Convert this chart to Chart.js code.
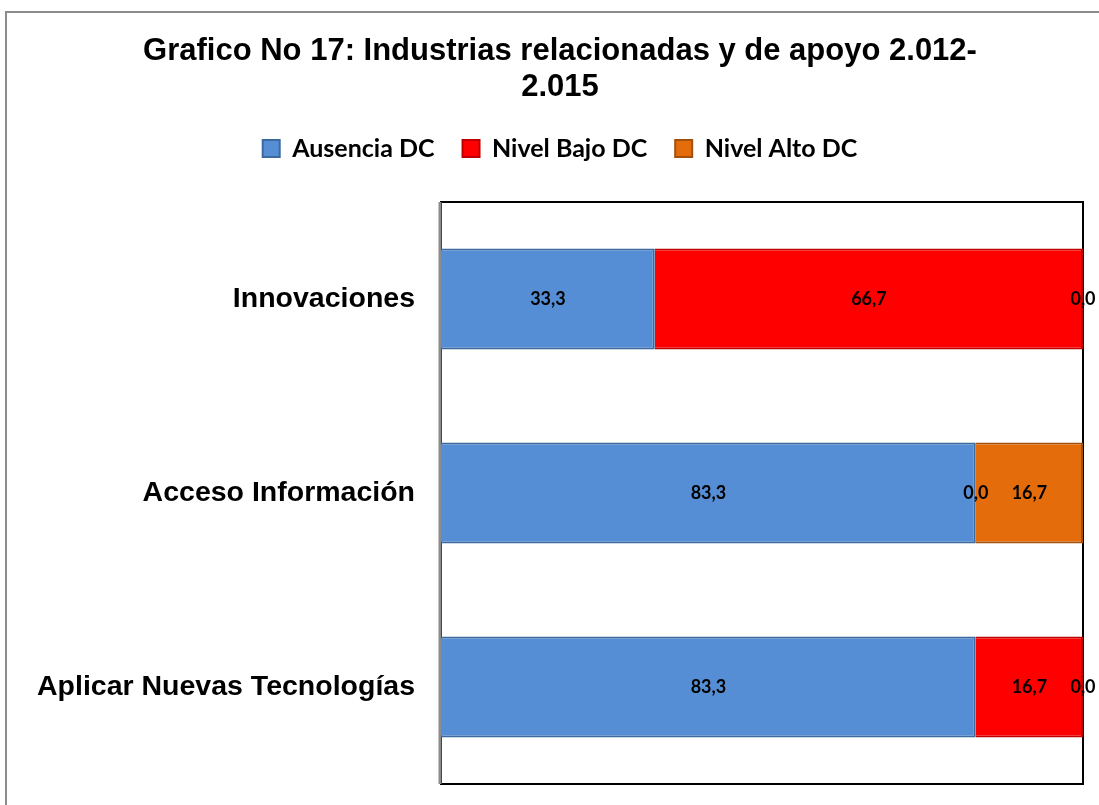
<!DOCTYPE html>
<html>
<head>
<meta charset="utf-8">
<script src="https://cdn.jsdelivr.net/npm/chart.js@4.4.0/dist/chart.umd.min.js"></script>
<style>
  html, body { margin: 0; padding: 0; background: #fff; overflow: hidden; width: 1099px; height: 805px; }
  #marco { position: absolute; left: 5px; top: 11px; width: 1200px; height: 900px; border: 2px solid #8c8c8c; box-sizing: border-box; }
  #grafico { position: absolute; left: 0; top: 0; }
</style>
</head>
<body>
<div id="marco"></div>
<canvas id="grafico" width="1120" height="805"></canvas>
<script>
// datos
const categorias = ["Innovaciones", "Acceso Información", "Aplicar Nuevas Tecnologías"];
const ausencia = [33.3, 83.3, 83.3];
const nivelBajo = [66.7, 0.0, 16.7];
const nivelAlto = [0.0, 16.7, 0.0];
const series = ["Ausencia DC", "Nivel Bajo DC", "Nivel Alto DC"];
const titulo = ["Grafico No 17: Industrias relacionadas y de apoyo 2.012-", "2.015"];

// etiquetas de valor en el centro de cada tramo
const etiquetas = {
  id: "etiquetas",
  afterDraw(chart) {
    const ctx = chart.ctx;
    ctx.save();
    ctx.font = "bold 18px Lato";
    ctx.fillStyle = "#000";
    ctx.textAlign = "center";
    ctx.textBaseline = "middle";
    chart.data.datasets.forEach((ds, i) => {
      chart.getDatasetMeta(i).data.forEach((bar, j) => {
        const v = ds.data[j].toFixed(1).replace(".", ",");
        ctx.fillText(v, (bar.x + bar.base) / 2, bar.y);
      });
    });
    ctx.restore();
  }
};

// marco del area de trazado
const marcoArea = {
  id: "marcoArea",
  beforeDatasetsDraw(chart) {
    const a = chart.chartArea;
    const ctx = chart.ctx;
    ctx.save();
    ctx.strokeStyle = "#000";
    ctx.lineWidth = 2;
    ctx.strokeRect(a.left, a.top, a.right - a.left, a.bottom - a.top);
    ctx.strokeStyle = "#8c8c8c";
    ctx.lineWidth = 3;
    ctx.beginPath();
    ctx.moveTo(a.left - 1, a.top);
    ctx.lineTo(a.left - 1, a.bottom);
    ctx.stroke();
    ctx.restore();
  }
};

new Chart(document.getElementById("grafico"), {
  type: "bar",
  data: {
    labels: categorias,
    datasets: [
      { label: series[0], data: ausencia, backgroundColor: "#558ed5", borderColor: "#3c6a9e", borderWidth: 2 },
      { label: series[1], data: nivelBajo, backgroundColor: "#ff0000", borderColor: "#c00000", borderWidth: 2 },
      { label: series[2], data: nivelAlto, backgroundColor: "#e46c0a", borderColor: "#a3500c", borderWidth: 2 }
    ]
  },
  options: {
    indexAxis: "y",
    responsive: false,
    animation: false,
    layout: { padding: { left: 0, right: 0, top: 0, bottom: 21 } },
    datasets: { bar: { categoryPercentage: 1, barPercentage: 0.52 } },
    scales: {
      x: {
        stacked: true, min: 0, max: 100, position: "top",
        grid: { display: false }, border: { display: false }, ticks: { display: false },
        afterFit: s => { s.height = 31; }
      },
      y: {
        stacked: true,
        grid: { display: false, drawTicks: false },
        border: { display: false },
        ticks: { color: "#000", padding: 26, font: { family: "'Liberation Sans', Arial", weight: "bold", size: 28.5 } },
        afterFit: s => { s.width = 441; s.paddingTop = 0; s.paddingBottom = 0; }
      },
      derecha: {
        type: "linear", axis: "y", position: "right", display: true,
        grid: { display: false }, border: { display: false }, ticks: { display: false },
        afterFit: s => { s.width = 37; s.paddingTop = 0; s.paddingBottom = 0; }
      }
    },
    plugins: {
      title: {
        display: true, text: titulo, color: "#000",
        font: { family: "'Liberation Sans', Arial", weight: "bold", size: 31, lineHeight: 36.5 / 31 },
        padding: { top: 33, bottom: 2 }
      },
      legend: {
        display: true,
        labels: {
          color: "#000", boxWidth: 17, boxHeight: 17, padding: 28,
          font: { family: "Lato", weight: "bold", size: 25 }
        }
      },
      tooltip: { enabled: false }
    }
  },
  plugins: [marcoArea, etiquetas]
});
</script>
</body>
</html>
